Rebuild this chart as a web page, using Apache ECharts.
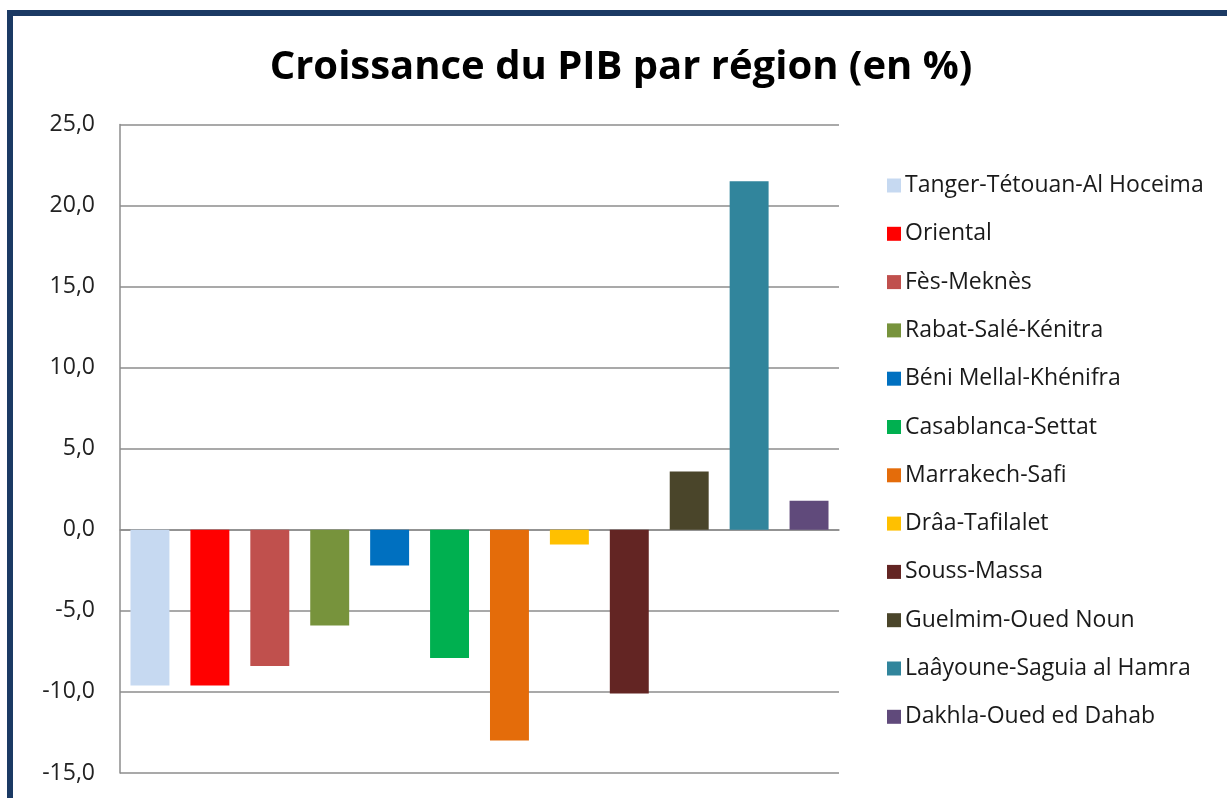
<!DOCTYPE html>
<html>
<head>
<meta charset="utf-8">
<script src="https://cdn.jsdelivr.net/npm/echarts@6/dist/echarts.min.js"></script>
<style>
html,body{margin:0;padding:0;background:#fff;}
#chart{width:1227px;height:798px;}
</style>
</head>
<body>
<div id="chart"></div>
<script>
const regions = ["Tanger-Tétouan-Al Hoceima","Oriental","Fès-Meknès","Rabat-Salé-Kénitra","Béni Mellal-Khénifra","Casablanca-Settat","Marrakech-Safi","Drâa-Tafilalet","Souss-Massa","Guelmim-Oued Noun","Laâyoune-Saguia al Hamra","Dakhla-Oued ed Dahab"];
const growth = [-9.6,-9.6,-8.4,-5.9,-2.2,-7.9,-13.0,-0.9,-10.1,3.6,21.5,1.8];
const colors = ["#c6d9f1","#ff0000","#c0504d","#77933c","#0070c0","#00b050","#e46c0a","#ffc000","#632523","#4a452a","#31859c","#604a7b"];
const yTicks = {min:-15, max:25, interval:5};

const chart = echarts.init(document.getElementById('chart'));
const series = regions.map((name,i)=>({
  name: name,
  type: 'bar',
  stack: 'all',
  barWidth: '65%',
  itemStyle: {color: colors[i]},
  data: regions.map((_,j)=> j===i ? growth[i] : '-')
}));
chart.setOption({
  animation:false,
  title:{
    text:'Croissance du PIB par région (en %)',
    left:616, top:43, textAlign:'center',
    textStyle:{fontFamily:'Open Sans', fontWeight:'bold', fontSize:40, color:'#000'}
  },
  graphic:[{
    type:'rect', shape:{x:10,y:13,width:1260,height:820},
    style:{fill:'none', stroke:'#1b3a64', lineWidth:6}, silent:true
  }],
  legend:{
    orient:'vertical', left:882, top:169,
    itemWidth:14, itemHeight:14, itemGap:25.3,
    icon:'rect',
    textStyle:{fontFamily:'Open Sans', fontSize:23, color:'#1a1a1a', padding:[0,0,0,-1]},
    data: regions
  },
  grid:{left:120, top:124.5, right:388, bottom:25, containLabel:false},
  xAxis:{
    type:'category', data:regions,
    axisLine:{show:true, onZero:true, lineStyle:{color:'#8c8c8c', width:1.5}},
    axisTick:{show:false}, axisLabel:{show:false}, splitLine:{show:false}
  },
  yAxis:{
    type:'value', min:yTicks.min, max:yTicks.max, interval:yTicks.interval,
    axisLine:{show:true, lineStyle:{color:'#8c8c8c', width:1.5}},
    axisTick:{show:false},
    axisLabel:{margin:25, fontFamily:'Open Sans', fontSize:23, color:'#222',
      formatter:v=>v.toFixed(1).replace('.',',')},
    splitLine:{show:true, lineStyle:{color:'#8c8c8c', width:1.5}}
  },
  series: series
});
</script>
</body>
</html>
